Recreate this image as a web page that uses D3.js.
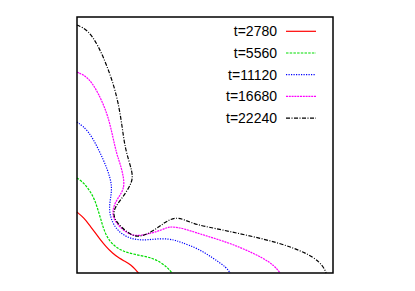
<!DOCTYPE html>
<html>
  <head>
    <script src="https://d3js.org/d3.v7.min.js"></script>
    <style>
      body { margin: 0; background: #fff; }
      text { font-family: "Liberation Sans", Arial, sans-serif; font-size: 14px; }
    </style>
  </head>
  <body>
    <script>
      // interface positions, x and y in box units (0..1)
      var labels = ["t=2780", "t=5560", "t=11120", "t=16680", "t=22240"];
      var colors = ["#ff0000", "#00dd00", "#0000ff", "#ff00ff", "#000000"];
      var dashes = [null, "2.5,1.2", "1.2,1.3", "2,0.8", "4,1.5,1,1.5"];

      var c2780 = [[0,0.238],[0.029,0.214],[0.048,0.188],[0.068,0.161],[0.087,0.136],
        [0.113,0.103],[0.139,0.077],[0.165,0.057],[0.191,0.044],[0.211,0.031],[0.230,0.012],[0.240,0]];
      var c5560 = [[0,0.371],[0.027,0.352],[0.051,0.320],[0.070,0.285],[0.082,0.246],
        [0.094,0.207],[0.105,0.168],[0.125,0.125],[0.160,0.094],[0.199,0.078],[0.250,0.068],
        [0.293,0.059],[0.328,0.041],[0.355,0.020],[0.371,0]];
      var c11120 = [[0,0.590],[0.043,0.559],[0.083,0.487],[0.120,0.404],[0.139,0.337],
        [0.129,0.285],[0.125,0.238],[0.141,0.188],[0.176,0.148],[0.227,0.129],[0.277,0.129],
        [0.332,0.136],[0.383,0.129],[0.402,0.121],[0.469,0.098],[0.531,0.059],[0.586,0.020],[0.598,0]];
      var c16680 = [[0,0.785],[0.043,0.766],[0.082,0.707],[0.121,0.617],[0.141,0.527],
        [0.156,0.461],[0.168,0.430],[0.188,0.352],[0.176,0.313],[0.148,0.277],[0.137,0.234],
        [0.148,0.199],[0.188,0.160],[0.227,0.141],[0.293,0.156],[0.330,0.168],[0.357,0.180],[0.383,0.180],
        [0.422,0.172],[0.469,0.156],[0.598,0.117],[0.688,0.078],[0.754,0.043],[0.785,0.012],[0.793,0]];
      var c22240 = [[0,0.969],[0.043,0.949],[0.082,0.891],[0.121,0.801],[0.156,0.695],
        [0.176,0.578],[0.188,0.480],[0.219,0.391],[0.215,0.352],[0.180,0.297],[0.148,0.258],
        [0.141,0.227],[0.156,0.195],[0.199,0.156],[0.238,0.137],[0.293,0.160],[0.344,0.199],
        [0.383,0.219],[0.422,0.207],[0.469,0.188],[0.531,0.176],[0.664,0.148],[0.793,0.117],
        [0.898,0.078],[0.949,0.043],[0.969,0.012],[0.973,0]];
      var curves = [c2780, c5560, c11120, c16680, c22240];

      var margin = {top: 17, left: 77},
          width = 256, height = 256;

      var x = d3.scaleLinear().domain([0, 1]).range([0, width]);
      var y = d3.scaleLinear().domain([0, 1]).range([height, 0]);

      var svg = d3.select("body").append("svg")
          .attr("width", 415)
          .attr("height", 291)
        .append("g")
          .attr("transform", "translate(" + margin.left + "," + margin.top + ")");

      var line = d3.line()
          .x(function(d) { return x(d[0]); })
          .y(function(d) { return y(d[1]); })
          .curve(d3.curveBasis);

      svg.selectAll(".curve")
          .data(curves)
        .enter().append("path")
          .attr("class", "curve")
          .attr("d", line)
          .attr("fill", "none")
          .attr("stroke", function(d, i) { return colors[i]; })
          .attr("stroke-width", 1.2)
          .attr("stroke-dasharray", function(d, i) { return dashes[i]; });

      // legend
      var leg = svg.selectAll(".leg")
          .data(labels)
        .enter().append("g")
          .attr("class", "leg")
          .attr("transform", function(d, i) { return "translate(0," + (14.3 + i * 21.7) + ")"; });
      leg.append("text")
          .attr("x", 200)
          .attr("dy", "0.35em")
          .attr("text-anchor", "end")
          .text(function(d) { return d; });
      leg.append("line")
          .attr("x1", 209).attr("x2", 239)
          .attr("stroke", function(d, i) { return colors[i]; })
          .attr("stroke-width", 1.2)
          .attr("stroke-dasharray", function(d, i) { return dashes[i]; });

      svg.append("rect")
          .attr("width", width)
          .attr("height", height)
          .attr("fill", "none")
          .attr("stroke", "#000")
          .attr("stroke-width", 1.5);
    </script>
  </body>
</html>
